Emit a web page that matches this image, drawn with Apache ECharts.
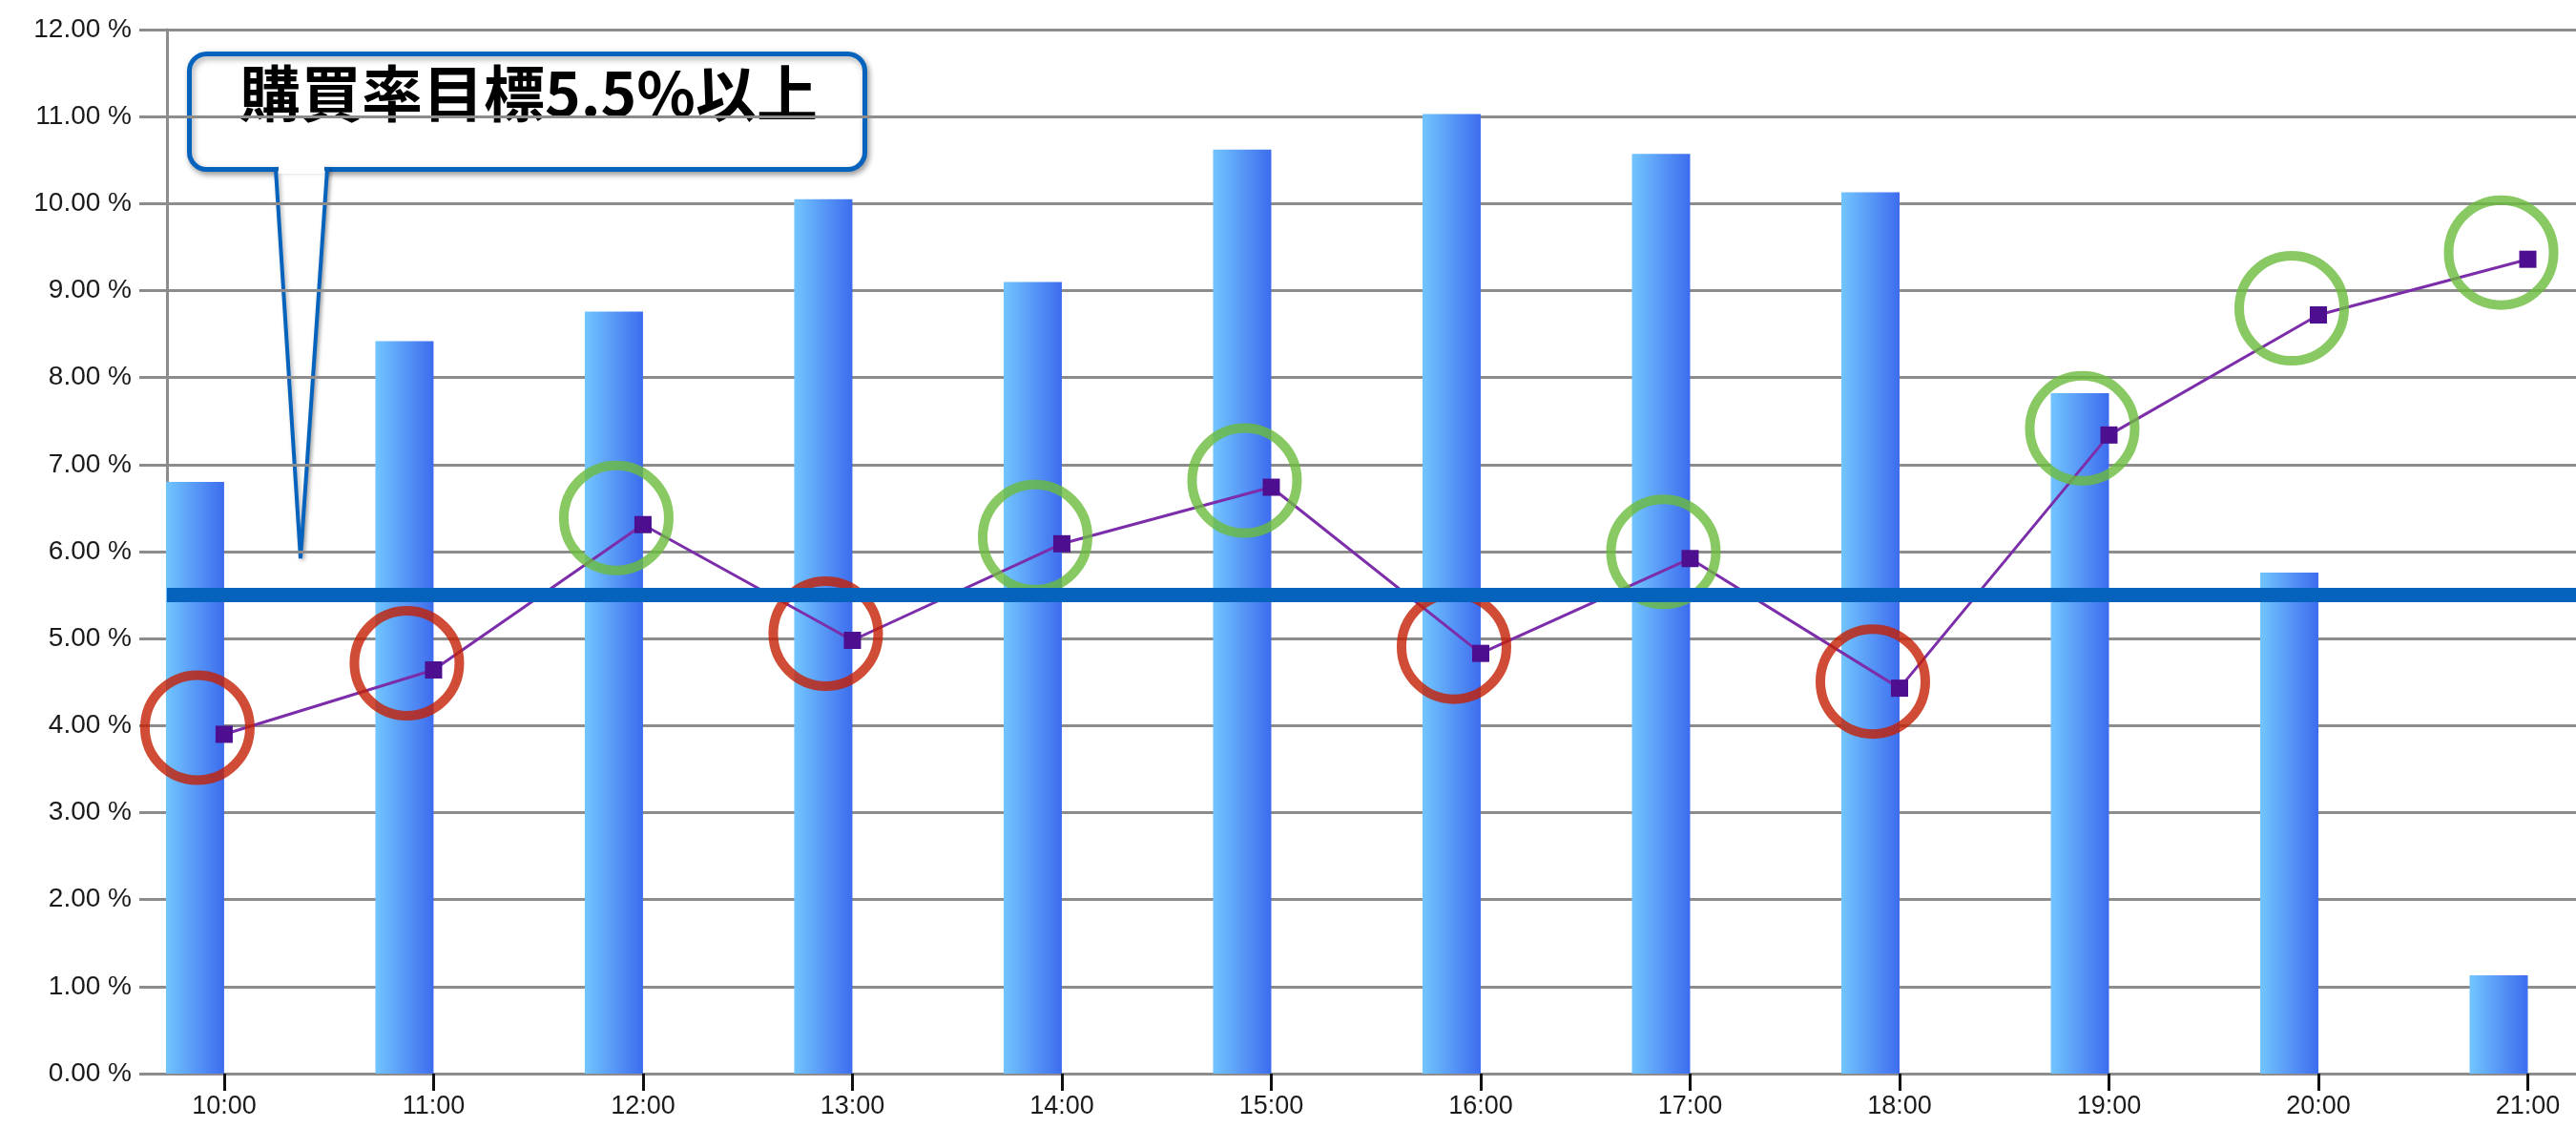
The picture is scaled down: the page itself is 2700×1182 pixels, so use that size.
<!DOCTYPE html>
<html>
<head>
<meta charset="utf-8">
<script src="https://cdn.jsdelivr.net/npm/echarts@6/dist/echarts.min.js"></script>
<style>
  html, body { margin: 0; padding: 0; background: #ffffff; }
  #chart { width: 2700px; height: 1182px; }
</style>
</head>
<body>
<div id="chart"></div>
<script>
// Hourly slots shown on the x axis
const HOURS = ['10:00', '11:00', '12:00', '13:00', '14:00', '15:00',
               '16:00', '17:00', '18:00', '19:00', '20:00', '21:00'];
// Share of traffic per hour (bars, %)
const TRAFFIC_SHARE = [6.80, 8.42, 8.76, 10.05, 9.10, 10.62, 11.03, 10.57, 10.13, 7.82, 5.76, 1.13];
// Purchase rate per hour (line, %)
const PURCHASE_RATE = [3.90, 4.64, 6.31, 4.98, 6.09, 6.74, 4.83, 5.92, 4.43, 7.34, 8.72, 9.36];
// Target purchase rate (%)
const TARGET_RATE = 5.5;
// Y axis range and step (%)
const Y_MIN = 0, Y_MAX = 12, Y_STEP = 1;
// Callout text
const CALLOUT_TEXT = '購買率目標5.5%以上';

const GRID_GRAY = '#8c8c8c';
const RING_RED = '#c41f04';
const RING_GREEN = '#6cbb3c';
const TARGET_BLUE = '#0563be';

const xIdx = HOURS.map((_, i) => i);
const barData = TRAFFIC_SHARE.map((v, i) => [i, v]);
const lineData = PURCHASE_RATE.map((v, i) => [i, v]);
const ringData = PURCHASE_RATE.map((v, i) => ({
  value: [i, v],
  itemStyle: { borderColor: v >= TARGET_RATE ? RING_GREEN : RING_RED }
}));

const chart = echarts.init(document.getElementById('chart'), null, { renderer: 'canvas' });

const barGradient = new echarts.graphic.LinearGradient(0, 0, 1, 0, [
  { offset: 0, color: '#72c5ff' },
  { offset: 1, color: '#3d6cee' }
]);

chart.setOption({
  animation: false,
  backgroundColor: '#ffffff',
  grid: { left: 175, right: 0, top: 31, bottom: 57, containLabel: false },
  xAxis: {
    type: 'value',
    min: -0.273,
    max: 11.23,
    splitLine: { show: false },
    axisLine: { show: true, onZero: false, lineStyle: { color: GRID_GRAY, width: 3 } },
    axisTick: {
      show: true,
      customValues: xIdx,
      length: 18,
      lineStyle: { color: '#111111', width: 3 }
    },
    axisLabel: {
      show: true,
      customValues: xIdx,
      formatter: (v) => HOURS[Math.round(v)] || '',
      margin: 21,
      fontFamily: 'Liberation Sans, Arial, sans-serif',
      fontSize: 27,
      color: '#1a1a1a'
    }
  },
  yAxis: {
    type: 'value',
    min: Y_MIN,
    max: Y_MAX,
    interval: Y_STEP,
    axisLine: { show: true, onZero: false, lineStyle: { color: GRID_GRAY, width: 3 } },
    axisTick: { show: true, length: 29, lineStyle: { color: GRID_GRAY, width: 3 } },
    splitLine: { show: true, lineStyle: { color: GRID_GRAY, width: 3 } },
    axisLabel: {
      formatter: (v) => v.toFixed(2) + ' %',
      margin: 37,
      fontFamily: 'Liberation Sans, Arial, sans-serif',
      fontSize: 28,
      color: '#1a1a1a'
    }
  },
  series: [
    {
      name: 'traffic',
      type: 'bar',
      data: barData,
      barWidth: 61,
      barGap: '0%',
      z: 2,
      itemStyle: { color: barGradient }
    },
    {
      // empty companion column so each bar sits just left of its hour tick
      name: 'spacer',
      type: 'bar',
      data: barData,
      barWidth: 61,
      barGap: '0%',
      silent: true,
      z: 1,
      itemStyle: { color: 'rgba(0,0,0,0)' }
    },
    {
      name: 'purchase',
      type: 'line',
      data: lineData,
      z: 3,
      symbol: 'rect',
      symbolSize: 18,
      showAllSymbol: true,
      itemStyle: { color: '#4d0f8f' },
      lineStyle: { color: '#7b2daa', width: 3 }
    },
    {
      name: 'rings',
      type: 'scatter',
      data: ringData,
      z: 4,
      clip: false,
      silent: true,
      symbol: 'circle',
      symbolSize: 110,
      symbolOffset: [-28, -7],
      itemStyle: { color: 'rgba(0,0,0,0)', borderWidth: 10 }
    },
    {
      name: 'target',
      type: 'line',
      data: [],
      z: 6,
      markLine: {
        silent: true,
        symbol: ['none', 'none'],
        label: { show: false },
        lineStyle: { color: TARGET_BLUE, width: 15, type: 'solid' },
        data: [{ yAxis: TARGET_RATE }]
      }
    }
  ],
  graphic: [
    {
      type: 'group',
      z: 100,
      children: [
        {
          type: 'rect',
          shape: { x: 198.5, y: 56.5, width: 708, height: 121, r: 18 },
          style: {
            fill: '#ffffff', stroke: TARGET_BLUE, lineWidth: 5,
            shadowBlur: 6, shadowOffsetX: 2, shadowOffsetY: 3,
            shadowColor: 'rgba(0,0,0,0.35)'
          }
        },
        {
          type: 'polygon',
          shape: { points: [[289, 177], [315, 585], [343, 177]] },
          style: {
            fill: '#ffffff', stroke: TARGET_BLUE, lineWidth: 4,
            shadowBlur: 4, shadowOffsetX: 2, shadowOffsetY: 2,
            shadowColor: 'rgba(0,0,0,0.3)'
          }
        },
        {
          type: 'rect',
          shape: { x: 292, y: 170, width: 48, height: 12 },
          style: { fill: '#ffffff' }
        },
        {
          type: 'text',
          x: 554,
          y: 98,
          style: {
            text: CALLOUT_TEXT,
            fontFamily: 'Noto Sans CJK JP, sans-serif',
            fontWeight: 'bold',
            fontSize: 64,
            fill: '#000000',
            align: 'center',
            verticalAlign: 'middle'
          }
        }
      ]
    }
  ]
});
</script>
</body>
</html>
